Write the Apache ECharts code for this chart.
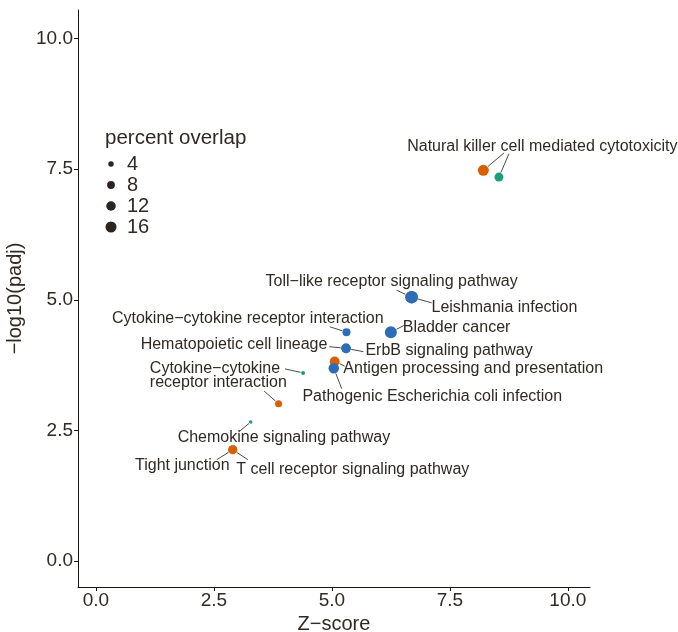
<!DOCTYPE html>
<html>
<head>
<meta charset="utf-8">
<script src="https://cdn.jsdelivr.net/npm/echarts@6/dist/echarts.min.js"></script>
<style>
  html, body { margin: 0; padding: 0; background: #ffffff; }
  #chart { width: 678px; height: 632px; }
</style>
</head>
<body>
<div id="chart"></div>
<script>
// Enriched KEGG pathways: Z-score vs -log10(padj), dot size = percent overlap
const pathways = [
  'Natural killer cell mediated cytotoxicity',
  'Antigen processing and presentation',
  'Cytokine\u2212cytokine\nreceptor interaction',
  'Tight junction',
  'T cell receptor signaling pathway',
  'Natural killer cell mediated cytotoxicity',
  'Cytokine\u2212cytokine\nreceptor interaction',
  'Chemokine signaling pathway',
  'Toll\u2212like receptor signaling pathway',
  'Leishmania infection',
  'Bladder cancer',
  'Cytokine\u2212cytokine receptor interaction',
  'Hematopoietic cell lineage',
  'ErbB signaling pathway',
  'Pathogenic Escherichia coli infection'
];
const zScore = [8.21, 5.06, 3.87, 2.90, 2.90, 8.54, 4.39, 3.28, 6.69, 6.69, 6.25, 5.31, 5.30, 5.30, 5.04];
const negLog10Padj = [7.48, 3.82, 3.01, 2.13, 2.13, 7.35, 3.60, 2.66, 5.05, 5.05, 4.38, 4.38, 4.07, 4.07, 3.69];
const percentOverlap = [16, 13, 6.5, 10.7, 10.7, 10.7, 2.1, 1.6, 20.7, 20.7, 19, 8.5, 12, 12, 14.6];
const group = ['A', 'A', 'A', 'A', 'A', 'B', 'B', 'B', 'C', 'C', 'C', 'C', 'C', 'C', 'C'];

const groupNames = ['A', 'B', 'C'];
const xTicks = [0, 2.5, 5, 7.5, 10];
const yTicks = [0, 2.5, 5, 7.5, 10];
const sizeBreaks = [4, 8, 12, 16];

// ---- styling / layout ----
const groupColors = { A: '#d95f02', B: '#1b9e77', C: '#2c6db6' };
const textColor = '#2f2924';
const fontFamily = 'Liberation Sans, Arial, Helvetica, sans-serif';
// repelled label placement: [dx, dy, align] of the label anchor from its point (px)
const labelOffsets = [
  [59, -24, 'center'], [138.5, 7, 'center'], [-128.7, -28.3, 'left'], [-50.5, 15.7, 'center'],
  [120, 20, 'center'], [43, -30.6, 'center'], [-153.3, 2.7, 'left'], [33.2, 15.4, 'center'],
  [-20, -15.4, 'center'], [92.8, 10, 'center'], [65.7, -5, 'center'], [-98.7, -13.4, 'center'],
  [-112, -4, 'center'], [103, 2, 'center'], [98.5, 28.6, 'center']
];
// where each connector meets its label, relative to the point (px)
const connectorEnds = [
  [20.7, -17.4], [10, 4.7], [-14.4, -12.6], [-16, 10], [15, 10],
  [10, -23.3], [-18, -4], [-12, 10],
  [-15, -7], [20, 5.6], [13, -6.7], [-16.7, -5.4], [-16.7, -1.7], [17.3, 3.3], [8, 20.6]
];
// duplicate labels sharing the same text and spot are only written once
const drawText = [true, true, true, true, true, false, false, true, true, true, true, true, true, true, true];
const dotDiameter = v => 2.75 * Math.sqrt(v);

const chart = echarts.init(document.getElementById('chart'), null, { renderer: 'canvas' });

const pointSeries = groupNames.map((g, si) => {
  const idx = [];
  pathways.forEach((_, i) => { if (group[i] === g) idx.push(i); });
  return {
    type: 'scatter',
    name: g,
    z: 3 + si,
    data: idx.map(i => [zScore[i], negLog10Padj[i], percentOverlap[i]]),
    symbol: 'circle',
    symbolSize: val => dotDiameter(val[2]),
    itemStyle: { color: groupColors[g], opacity: 1 },
    emphasis: { disabled: true },
    silent: true,
    animation: false
  };
});

// text labels with connector segments
const labelSeries = {
  type: 'custom',
  z: 2,
  silent: true,
  animation: false,
  data: pathways.map((_, i) => [zScore[i], negLog10Padj[i], i]),
  renderItem: (params, api) => {
    const i = api.value(2);
    const p = api.coord([api.value(0), api.value(1)]);
    const r = dotDiameter(percentOverlap[i]) / 2;
    const e = connectorEnds[i];
    const len = Math.hypot(e[0], e[1]);
    const sx = p[0] + e[0] / len * (r + 0.5);
    const sy = p[1] + e[1] / len * (r + 0.5);
    const children = [{
      type: 'line',
      shape: { x1: sx, y1: sy, x2: p[0] + e[0], y2: p[1] + e[1] },
      style: { stroke: '#4a4a4a', lineWidth: 1 }
    }];
    if (drawText[i]) {
      const o = labelOffsets[i];
      children.push({
        type: 'text',
        x: p[0] + o[0],
        y: p[1] + o[1],
        style: {
          text: pathways[i],
          fill: textColor,
          font: '16px ' + fontFamily,
          lineHeight: 14,
          align: o[2],
          verticalAlign: 'middle'
        }
      });
    }
    return { type: 'group', children: children };
  }
};

// size legend ("percent overlap")
const legendX = 111, legendTop = 141, legendStep = 21;
const legendGraphics = [{
  type: 'text',
  x: legendX - 6, y: legendTop - 3,
  style: { text: 'percent overlap', fill: textColor, font: '20.5px ' + fontFamily, verticalAlign: 'middle' }
}];
sizeBreaks.forEach((b, k) => {
  const cy = legendTop + 23 + k * legendStep;
  legendGraphics.push({
    type: 'circle',
    shape: { cx: legendX, cy: cy, r: dotDiameter(b) / 2 },
    style: { fill: '#2b241f' }
  });
  legendGraphics.push({
    type: 'text',
    x: legendX + 16, y: cy,
    style: { text: String(b), fill: textColor, font: '20px ' + fontFamily, verticalAlign: 'middle' }
  });
});

chart.setOption({
  backgroundColor: '#ffffff',
  animation: false,
  grid: { left: 78, right: 88, top: 10, bottom: 45, containLabel: false, outerBoundsMode: 'none' },
  xAxis: {
    type: 'value',
    min: -0.38, max: 10.47,
    name: 'Z\u2212score',
    nameLocation: 'middle',
    nameGap: 27,
    nameTextStyle: { color: textColor, fontSize: 20, fontFamily: fontFamily },
    axisLine: { show: true, onZero: false, lineStyle: { color: '#1a1410', width: 1 } },
    axisTick: { show: true, length: 4, customValues: xTicks, lineStyle: { color: '#1a1410' } },
    axisLabel: {
      customValues: xTicks, color: textColor, fontSize: 19, fontFamily: fontFamily, margin: 4,
      formatter: v => v.toFixed(1)
    },
    splitLine: { show: false }
  },
  yAxis: {
    type: 'value',
    min: -0.5, max: 10.55,
    name: '\u2212log10(padj)',
    nameLocation: 'middle',
    nameGap: 49,
    nameRotate: 90,
    nameTextStyle: { color: textColor, fontSize: 20, fontFamily: fontFamily },
    axisLine: { show: true, onZero: false, lineStyle: { color: '#1a1410', width: 1 } },
    axisTick: { show: true, length: 4, customValues: yTicks, lineStyle: { color: '#1a1410' } },
    axisLabel: {
      customValues: yTicks, color: textColor, fontSize: 19, fontFamily: fontFamily, margin: 5,
      formatter: v => v.toFixed(1)
    },
    splitLine: { show: false }
  },
  graphic: legendGraphics,
  series: [labelSeries].concat(pointSeries)
});
</script>
</body>
</html>
